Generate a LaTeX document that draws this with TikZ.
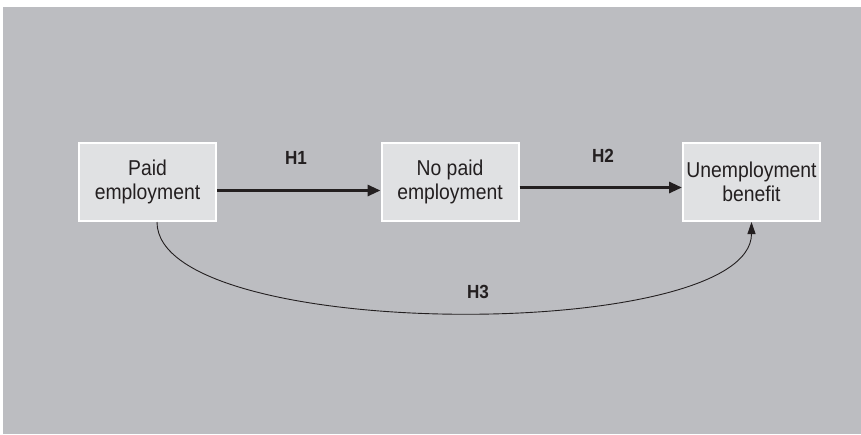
\documentclass[tikz,border=0pt]{standalone}
\usepackage{fontspec}
\setmainfont{Liberation Sans}[FakeStretch=0.9]
\usepackage{tikz}
\usetikzlibrary{arrows.meta}
\definecolor{panelgray}{RGB}{188,189,193}
\definecolor{boxgray}{RGB}{224,225,227}
\definecolor{inkblack}{RGB}{35,31,32}

\begin{document}
\begin{tikzpicture}[
			x=1pt, y=-1pt,
			box/.style={rectangle, draw=white, line width=2pt, fill=boxgray,
				minimum width=137pt, minimum height=78pt, align=center,
				text=inkblack, font=\fontsize{21.5}{24}\selectfont},
			hlabel/.style={text=inkblack, font=\fontsize{19}{21}\selectfont\bfseries},
			thick arrow/.style={draw=inkblack, line width=3pt,
				-{Triangle[length=13pt,width=11pt]}},
			thin arrow/.style={draw=inkblack, line width=0.9pt,
				-{Triangle[length=12pt,width=8pt]}},
			]
			\useasboundingbox (0,0) rectangle (861,434);
			\fill[panelgray] (3,7) rectangle (861,434);
			\node[box] (paid) at (147.5,182) {Paid\\employment};
			\node[box] (nopaid) at (450,182) {No paid\\employment};
			\node[box] (benefit) at (751.5,182) {Unemployment\\benefit};
			\draw[thick arrow] ([yshift=-8.5pt]paid.east) -- ([yshift=-8.5pt]nopaid.west);
			\draw[thick arrow] ([yshift=-5.5pt]nopaid.east) -- ([yshift=-5.5pt]benefit.west);
			\draw[thin arrow] ([xshift=9.5pt]paid.south) .. controls +(0,121) and +(0,121) .. (benefit.south);
			\node[hlabel] (h1) at (296,158) {H1};
			\node[hlabel] (h2) at (603,156) {H2};
			\node[hlabel] (h3) at (478,292) {H3};
		\end{tikzpicture}
\end{document}
